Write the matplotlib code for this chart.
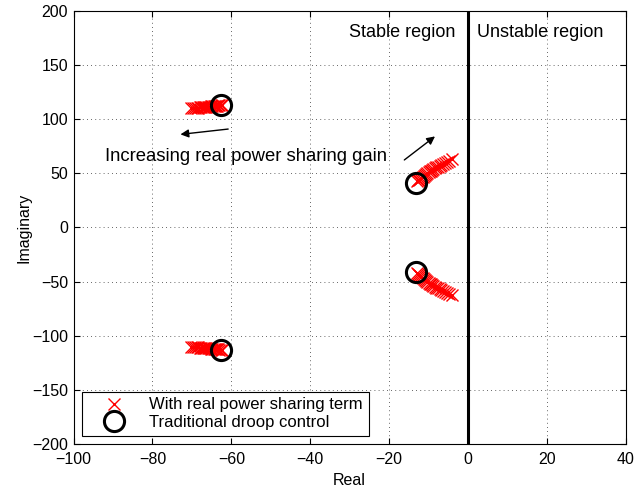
import matplotlib
matplotlib.use("Agg")
import matplotlib.pyplot as plt
import numpy as np

plt.rcParams['font.family'] = ['Liberation Sans', 'DejaVu Sans']

# Branch of the left (low-frequency) pole pair, upper half
left_re = [-62.4, -62.7, -63.0, -63.3, -63.6, -63.9, -64.2, -64.5, -64.8, -65.1,
           -65.4, -65.7, -66.0, -66.3, -66.6, -66.9, -67.2, -67.6, -68.0, -68.4,
           -68.8, -69.3, -69.8, -70.3]
left_im = [113.2, 113.0, 112.9, 112.7, 112.6, 112.4, 112.3, 112.1, 112.0, 111.9,
           111.7, 111.6, 111.5, 111.4, 111.3, 111.2, 111.1, 111.0, 110.9, 110.8,
           110.7, 110.6, 110.5, 110.4]
# Branch of the right (dominant) pole pair, upper half
right_re = [-13.0, -12.7, -12.4, -12.1, -11.8, -11.5, -11.2, -10.9, -10.6, -10.3,
            -10.0, -9.7, -9.4, -9.1, -8.8, -8.4, -8.0, -7.6, -7.2, -6.8,
            -6.3, -5.8, -5.3, -4.7, -4.1]
right_im = [42.5, 43.4, 44.3, 45.2, 46.1, 47.0, 47.8, 48.6, 49.4, 50.2,
            51.0, 51.8, 52.5, 53.2, 53.9, 54.7, 55.5, 56.3, 57.1, 57.9,
            58.8, 59.7, 60.6, 61.7, 62.8]
# Traditional droop control poles (upper half)
droop_re = [-62.5, -13.2]
droop_im = [113.5, 41.5]

xticks = [-100, -80, -60, -40, -20, 0, 20, 40]
yticks = [-200, -150, -100, -50, 0, 50, 100, 150, 200]

fig = plt.figure(figsize=(6.34, 4.91), dpi=100)
ax = fig.add_axes([0.116, 0.0957, 0.871, 0.882])

cre = np.array(left_re + right_re)
cim = np.array(left_im + right_im)
ax.plot(np.concatenate([cre, cre]), np.concatenate([cim, -cim]), 'x', color='red',
        markersize=8, markeredgewidth=1.0, linestyle='none',
        label='With real power sharing term')
dre = np.array(droop_re)
dim = np.array(droop_im)
ax.plot(np.concatenate([dre, dre]), np.concatenate([dim, -dim]), 'o', markerfacecolor='none',
        markeredgecolor='black', markersize=14.5, markeredgewidth=2.2, linestyle='none',
        label='Traditional droop control')

ax.axvline(0, color='black', linewidth=2.2)

ax.set_xlim(-100, 40)
ax.set_ylim(-200, 200)
ax.set_xticks(xticks)
ax.set_yticks(yticks)
ax.set_xticklabels([str(t).replace('-', '\u2212') for t in xticks])
ax.set_yticklabels([str(t).replace('-', '\u2212') for t in yticks])
ax.tick_params(direction='in', top=True, right=True, labelsize=11.5, length=4)
ax.tick_params(axis='x', pad=6)
ax.tick_params(axis='y', pad=4)
ax.grid(True, linestyle=(0, (1, 4)), color='black', linewidth=0.6, alpha=0.8)
for s in ax.spines.values():
    s.set_linewidth(0.8)

ax.set_xlabel('Real', fontsize=11.5, labelpad=4)
ax.set_ylabel('Imaginary', fontsize=11.5, labelpad=0)

ax.text(-3.2, 180.5, 'Stable region', ha='right', va='center', fontsize=13)
ax.text(2.4, 180.5, 'Unstable region', ha='left', va='center', fontsize=13)
ax.text(-92.0, 65.4, 'Increasing real power sharing gain', ha='left', va='center', fontsize=13.3)

ax.annotate('', xy=(-73.6, 85.7), xytext=(-60.1, 91.2),
            arrowprops=dict(arrowstyle='-|>', color='black', lw=1.0, mutation_scale=12))
ax.annotate('', xy=(-7.8, 85.7), xytext=(-16.7, 60.8),
            arrowprops=dict(arrowstyle='-|>', color='black', lw=1.0, mutation_scale=12))

leg = ax.legend(loc='lower left', fontsize=12, frameon=True, fancybox=False,
                edgecolor='black', borderaxespad=0.5, handletextpad=0.5,
                borderpad=0.35, labelspacing=0.15, handlelength=3.2)
leg.get_frame().set_linewidth(0.8)
leg.get_frame().set_alpha(1)

fig.savefig('out.png', dpi=100)
